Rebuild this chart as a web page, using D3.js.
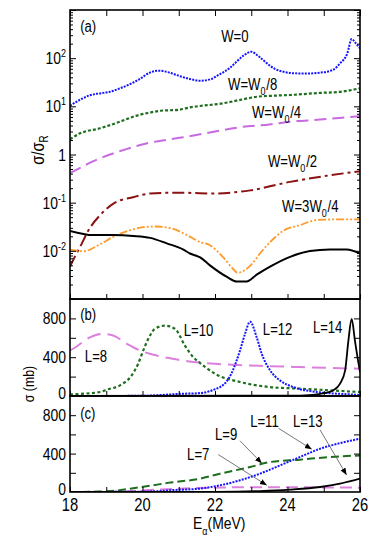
<!DOCTYPE html>
<html>
<head>
<meta charset="utf-8">
<script src="https://cdn.jsdelivr.net/npm/d3@7"></script>
<style>
  body { margin: 0; background: #fff; }
  svg text { font-family: "Liberation Sans", Arial, sans-serif; fill: #000; }
</style>
</head>
<body>
<script>
// 能量轴 (MeV) 与各曲线数据
// (a) σ/σR, 不同吸收强度 W
var eW0 = [18.0, 18.3, 18.55, 18.8, 19.1, 19.4, 19.7, 19.9, 20.2, 20.45, 20.75, 21.0, 21.3, 21.6, 21.9, 22.1, 22.4, 22.6, 22.8, 23.0, 23.2, 23.4, 23.65, 23.9, 24.1, 24.5, 24.9, 25.25, 25.45, 25.65, 25.77, 25.88, 26.0];
var sW0 = [10.3, 14, 17, 18.5, 20, 24, 30, 36, 50, 55, 50, 43, 37, 34, 37, 45, 62, 85, 115, 136, 110, 82, 60, 52, 49, 48, 50, 57, 78, 126, 250, 205, 160];

var eW8 = [18.0, 18.28, 18.83, 19.38, 19.8, 20.2, 20.5, 21.0, 21.31, 22.23, 22.69, 23.15, 23.6, 24.07, 24.9, 25.45, 26.0];
var sW8 = [2.07, 2.75, 3.5, 4.8, 6.3, 7.4, 8.1, 8.5, 9.5, 11.6, 13.6, 15.8, 16.6, 17.2, 19, 20, 23.7];

var eW4 = [18.0, 18.28, 18.63, 19.1, 19.58, 20.13, 20.76, 21.3, 22.0, 22.7, 23.5, 24.07, 24.9, 25.6, 26.0];
var sW4 = [0.41, 0.53, 0.72, 1.0, 1.31, 1.71, 2.07, 2.4, 3.0, 3.7, 4.2, 4.8, 5.3, 5.9, 6.3];

var eW2 = [18.0, 18.15, 18.3, 18.5, 18.83, 19.24, 19.74, 20.21, 20.67, 21.22, 21.94, 22.97, 24.07, 25.17, 26.0];
var sW2 = [0.0047, 0.008, 0.013, 0.026, 0.055, 0.1, 0.13, 0.155, 0.16, 0.16, 0.155, 0.18, 0.27, 0.37, 0.45];

var e3W4 = [18.0, 18.37, 18.83, 19.19, 19.56, 20.02, 20.39, 20.85, 21.22, 21.59, 21.86, 22.23, 22.5, 22.62, 22.83, 23.06, 23.24, 23.52, 23.88, 24.34, 24.8, 25.45, 26.0];
var s3W4 = [0.0106, 0.0098, 0.0137, 0.0195, 0.0253, 0.031, 0.032, 0.0285, 0.0213, 0.0152, 0.0131, 0.0073, 0.0042, 0.0035, 0.004, 0.0058, 0.0088, 0.0152, 0.026, 0.034, 0.0436, 0.045, 0.045];

var eW1 = [18.0, 18.64, 19.19, 19.75, 20.21, 20.67, 21.13, 21.31, 21.59, 21.86, 22.32, 22.6, 22.87, 23.15, 23.52, 24.07, 24.62, 25.17, 25.63, 26.0];
var sW1 = [0.026, 0.0213, 0.0213, 0.0204, 0.0186, 0.0143, 0.0106, 0.0088, 0.0073, 0.005, 0.0029, 0.0023, 0.0023, 0.0032, 0.0047, 0.0075, 0.0099, 0.0107, 0.0106, 0.0088];

// (b) σ (mb), 偶数 L
var eL8 = [18.0, 18.14, 18.55, 18.88, 19.19, 19.57, 19.93, 20.39, 20.83, 21.48, 22.0, 22.97, 24.34, 26.0];
var sL8 = [470, 500, 605, 640, 623, 538, 469, 418, 384, 349, 332, 315, 298, 281];

var eL10 = [18.0, 18.83, 19.02, 19.38, 19.7, 19.88, 20.02, 20.16, 20.34, 20.62, 20.9, 21.17, 21.4, 21.59, 22.0, 22.69, 23.52, 24.34, 25.17, 26.0];
var sL10 = [17, 41, 66, 110, 212, 332, 469, 589, 692, 725, 692, 520, 400, 340, 230, 144, 92, 76, 58, 41];

var eL12 = [18.0, 20.0, 20.5, 21.03, 21.59, 21.86, 22.0, 22.14, 22.32, 22.45, 22.69, 22.83, 22.97, 23.15, 23.29, 23.52, 23.79, 24.16, 24.8, 25.72, 26.0];
var sL12 = [0, 2, 10, 22, 30, 50, 70, 92, 150, 230, 469, 643, 766, 605, 435, 264, 161, 92, 41, 17, 10];

var eL14 = [18.0, 24.0, 24.7, 25.03, 25.26, 25.45, 25.59, 25.68, 25.77, 25.86, 25.93, 26.0];
var sL14 = [0, 3, 12, 31, 58, 127, 264, 571, 794, 571, 400, 246];

// (c) σ (mb), 奇数 L
var eL7 = [18.0, 19.0, 19.6, 20.2, 21.0, 22.0, 23.0, 24.0, 25.0, 26.0];
var sL7 = [0, 2, 8, 20, 35, 45, 50, 50, 48, 45];

var eL9 = [18.0, 18.83, 19.3, 19.66, 20.21, 20.7, 21.59, 22.14, 22.97, 23.52, 24.34, 25.17, 26.0];
var sL9 = [0, 5, 15, 35, 65, 95, 139, 191, 260, 312, 337, 364, 381];

var eL11 = [18.0, 19.5, 20.5, 20.76, 21.59, 22.14, 22.69, 23.24, 23.79, 24.34, 24.9, 25.45, 26.0];
var sL11 = [0, 2, 10, 18, 35, 70, 122, 191, 277, 364, 451, 509, 555];

var eL13 = [18.0, 22.0, 23.24, 24.07, 24.9, 25.45, 26.0];
var sL13 = [0, 2, 10, 25, 52, 87, 139];

// 刻度
var xMajor = [18, 19, 20, 21, 22, 23, 24, 25, 26];
var xLabels = [18, 20, 22, 24, 26];
var logLabels = [[100, "10", "2"], [10, "10", "1"], [1, "1", ""], [0.1, "10", "-1"], [0.01, "10", "-2"]];
var linTicks = [200, 400, 600, 800];
var linLabels = [0, 400, 800];

// 画布
var w = 382, h = 540;
var left = 70, right = 360;
var narrow = 0.82; // 模拟窄字体
var pa = { top: 10, bottom: 299 },
  pb = { top: 299, bottom: 396 },
  pc = { top: 396, bottom: 492 };

var svg = d3.select("body").append("svg").attr("width", w).attr("height", h);

var x = d3.scaleLinear().domain([18, 26]).range([left, right]);
var yA = d3.scaleLog().domain([1e-3, 1e3]).range([pa.bottom, pa.top]);
var yB = d3.scaleLinear().domain([0, 1000]).range([pb.bottom, pb.top]);
var yC = d3.scaleLinear().domain([0, 1000]).range([pc.bottom, pc.top]);

// 窄体文字：平移后水平压缩
function addText(px, py, size, anchor, rot) {
  var tr = "translate(" + px + "," + py + ")" + (rot ? " rotate(" + rot + ")" : "") + " scale(" + narrow + ",1)";
  return svg.append("text").attr("transform", tr)
    .attr("text-anchor", anchor || "start").style("font-size", size + "px");
}

var defs = svg.append("defs");
[["clipA", pa], ["clipB", pb], ["clipC", pc]].forEach(function (c) {
  defs.append("clipPath").attr("id", c[0])
    .append("rect").attr("x", left).attr("y", c[1].top)
    .attr("width", right - left).attr("height", c[1].bottom - c[1].top);
});
defs.append("marker").attr("id", "arr").attr("viewBox", "0 0 10 10")
  .attr("refX", 10).attr("refY", 5).attr("markerWidth", 7).attr("markerHeight", 7)
  .attr("markerUnits", "userSpaceOnUse").attr("orient", "auto")
  .append("path").attr("d", "M0,1 L10,5 L0,9 Z").attr("fill", "#000");

// 画曲线的通用函数
function drawCurve(g, ys, es, vs, color, dash, width) {
  var pts = es.map(function (e, i) { return [e, vs[i]]; });
  var line = d3.line()
    .x(function (d) { return x(d[0]); })
    .y(function (d) { return ys(d[1]); })
    .curve(d3.curveMonotoneX);
  g.append("path").datum(pts)
    .attr("d", line)
    .attr("fill", "none")
    .attr("stroke", color)
    .attr("stroke-width", width || 2)
    .attr("stroke-dasharray", dash);
}

// 坐标轴与刻度（向内）
function drawFrame(p, ys, isLog, topTicks) {
  var g = svg.append("g");
  var minor = isLog ? ys.ticks().filter(function (v) {
    return Math.abs(Math.log10(v) - Math.round(Math.log10(v))) > 1e-6;
  }) : [];
  var major = isLog ? [1e-3, 1e-2, 1e-1, 1, 10, 100, 1000] : linTicks;
  g.append("g").attr("transform", "translate(" + left + ",0)")
    .call(d3.axisLeft(ys).tickValues(major).tickSize(-6).tickFormat(""));
  g.append("g").attr("transform", "translate(" + right + ",0)")
    .call(d3.axisRight(ys).tickValues(major).tickSize(-6).tickFormat(""));
  if (isLog) {
    g.append("g").attr("transform", "translate(" + left + ",0)")
      .call(d3.axisLeft(ys).tickValues(minor).tickSize(-3).tickFormat(""));
    g.append("g").attr("transform", "translate(" + right + ",0)")
      .call(d3.axisRight(ys).tickValues(minor).tickSize(-3).tickFormat(""));
  }
  g.append("g").attr("transform", "translate(0," + p.bottom + ")")
    .call(d3.axisBottom(x).tickValues(xMajor).tickSize(-5).tickFormat(""));
  if (topTicks) {
    g.append("g").attr("transform", "translate(0," + p.top + ")")
      .call(d3.axisTop(x).tickValues(xMajor).tickSize(-6).tickFormat(""));
  }
  g.selectAll(".domain").remove();
  g.selectAll(".tick line").attr("stroke", "#000").attr("stroke-width", 1);
  svg.append("rect").attr("x", left).attr("y", p.top)
    .attr("width", right - left).attr("height", p.bottom - p.top)
    .attr("fill", "none").attr("stroke", "#000").attr("stroke-width", 1.6);
}

// ---------- (a) ----------
var gA = svg.append("g").attr("clip-path", "url(#clipA)");
drawCurve(gA, yA, eW0, sW0, "#1414ff", "2,1.2", 2);
drawCurve(gA, yA, eW8, sW8, "#1e6e1e", "3,2", 2.2);
drawCurve(gA, yA, eW4, sW4, "#c86ae0", "12,6", 2);
drawCurve(gA, yA, eW2, sW2, "#8b1212", "12,4,3,4", 2);
drawCurve(gA, yA, e3W4, s3W4, "#ff9a2a", "8,2,2,2,2,2", 1.8);
drawCurve(gA, yA, eW1, sW1, "#000", null, 2);
drawFrame(pa, yA, true, true);

// 对数轴标签
logLabels.forEach(function (d) {
  var t = addText(66, yA(d[0]) + 6, 17, "end").text(d[1]);
  if (d[2]) {
    t.append("tspan").attr("dy", -7).style("font-size", "11px").text(d[2]);
  }
});

// ---------- (b) ----------
var gB = svg.append("g").attr("clip-path", "url(#clipB)");
drawCurve(gB, yB, eL8, sL8, "#dd80dd", "14,7", 2);
drawCurve(gB, yB, eL10, sL10, "#1e6e1e", "3,2.5", 2.2);
drawCurve(gB, yB, eL12, sL12, "#1414ff", "2,1.2", 2);
drawCurve(gB, yB, eL14, sL14, "#000", null, 1.8);
drawFrame(pb, yB, false, false);

// ---------- (c) ----------
var gC = svg.append("g").attr("clip-path", "url(#clipC)");
drawCurve(gC, yC, eL7, sL7, "#dd80dd", "12,6", 2);
drawCurve(gC, yC, eL9, sL9, "#1e6e1e", "8,4", 2);
drawCurve(gC, yC, eL11, sL11, "#1414ff", "2,1.2", 2);
drawCurve(gC, yC, eL13, sL13, "#000", null, 1.8);
drawFrame(pc, yC, false, false);

// 线性轴标签（0 稍微上移，避免与 x 轴数字重叠）
[yB, yC].forEach(function (ys) {
  linLabels.forEach(function (v) {
    addText(66, ys(v) + (v === 0 ? 3 : 6), 17, "end").text(v);
  });
});

// x 轴标签
xLabels.forEach(function (v) {
  addText(x(v), 511, 18, "middle").text(v);
});

// 轴标题
var tA = addText(44, 150, 18, "middle", -90).text("σ/σ");
tA.append("tspan").attr("dy", 4).style("font-size", "12px").text("R");

addText(34, 384, 15, "middle", -90).text("σ (mb)");

var tE = addText(193, 529, 17, "start").text("E");
tE.append("tspan").attr("dy", 6).style("font-size", "11px").text("α");
tE.append("tspan").attr("dy", -6).text("(MeV)");

// 面板字母
[["(a)", yA, 349], ["(b)", yB, 784], ["(c)", yC, 760]].forEach(function (d) {
  addText(x(18.28), d[1](d[2]), 16).text(d[0]);
});

// (a) 中 W 标签 [E, σ/σR, 前缀, 下标, 后缀]
var wLabels = [
  [22.17, 217, "W=0", null, null],
  [22.36, 21.8, "W=W", "0", "/8"],
  [23.02, 5.72, "W=W", "0", "/4"],
  [23.46, 0.55, "W=W", "0", "/2"],
  [23.85, 0.064, "W=3W", "0", "/4"]
];
wLabels.forEach(function (d) {
  var t = addText(x(d[0]), yA(d[1]), 16).text(d[2]);
  if (d[3]) {
    t.append("tspan").attr("dy", 5).style("font-size", "11px").text(d[3]);
    t.append("tspan").attr("dy", -5).attr("dx", 1).text(d[4]);
  }
});

// (b) L 标签
var bLabels = [[18.41, 351, "L=8"], [21.14, 619, "L=10"], [23.32, 629, "L=12"], [24.7, 649, "L=14"]];
bLabels.forEach(function (d) {
  addText(x(d[0]), yB(d[1]), 16).text(d[2]);
});

// (c) L 标签与箭头 [标签E, 标签σ, 文字, 起点E, 起点σ, 终点E, 终点σ]
var cLabels = [
  [21.23, 333, "L=7", 22.09, 390, 23.43, 70],
  [22.0, 542, "L=9", 22.69, 534, 23.29, 299],
  [22.97, 677, "L=11", 23.75, 664, 24.67, 445],
  [24.15, 677, "L=13", 24.9, 646, 25.63, 177]
];
cLabels.forEach(function (d) {
  addText(x(d[0]), yC(d[1]), 16).text(d[2]);
  svg.append("line")
    .attr("x1", x(d[3])).attr("y1", yC(d[4]))
    .attr("x2", x(d[5])).attr("y2", yC(d[6]))
    .attr("stroke", "#555").attr("stroke-width", 0.8)
    .attr("marker-end", "url(#arr)");
});
</script>
</body>
</html>
